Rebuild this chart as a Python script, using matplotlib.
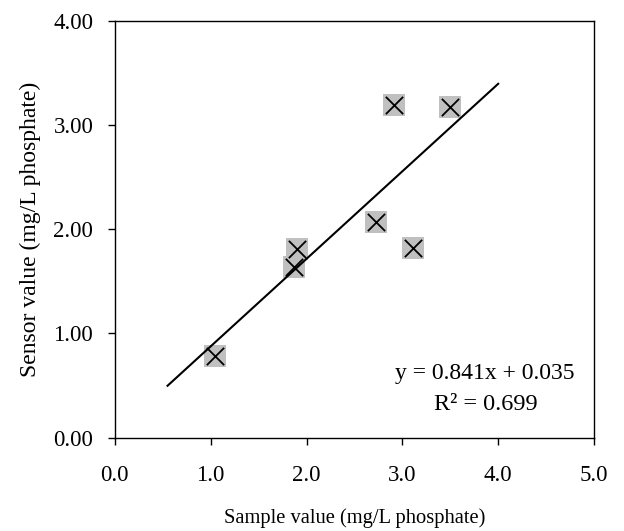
import matplotlib
matplotlib.use("Agg")
import matplotlib.pyplot as plt
import numpy as np

plt.rcParams['font.family'] = ['Liberation Serif', 'DejaVu Serif']

sample = [1.05, 1.87, 1.90, 2.72, 2.91, 3.11, 3.50]
sensor = [0.78, 1.64, 1.81, 2.07, 3.20, 1.82, 3.18]
slope, intercept = 0.841, 0.035
fit_range = [0.55, 4.0]
r2 = 0.699
xticks = [0, 1, 2, 3, 4, 5]
yticks = [0, 1, 2, 3, 4]

fig = plt.figure(figsize=(6.24, 5.31), dpi=100)
ax = fig.add_axes([0.184, 0.176, 0.768, 0.784])

ax.scatter(sample, sensor, marker='s', s=265, color='#c0c0c0', zorder=2, linewidths=0)
ax.scatter(sample, sensor, marker='x', s=155, color='black', linewidths=1.3, zorder=3)
xf = np.array(fit_range)
ax.plot(xf, slope * xf + intercept, color='black', lw=1.5, zorder=4)

ax.set_xlim(0, 5)
ax.set_ylim(0, 4)
ax.set_xticks(xticks)
ax.set_yticks(yticks)
ax.set_xticklabels([f"{v:.1f}" for v in xticks], fontsize=16.5)
ax.set_yticklabels([f"{v:.2f}" for v in yticks], fontsize=16.5)
ax.tick_params(direction='out', length=5, width=1)
ax.tick_params(axis='x', pad=14.5)
ax.tick_params(axis='y', pad=10.5)
for s in ax.spines.values():
    s.set_linewidth(1)

ax.set_xlabel("Sample value (mg/L phosphate)", fontsize=14.8, labelpad=16)
ax.set_ylabel("Sensor value (mg/L phosphate)", fontsize=17, labelpad=9)

ax.text(3.86, 0.62, f"y = {slope:.3f}x + {intercept:.3f}", fontsize=17, ha='center', va='center')
ax.text(3.87, 0.32, f"R² = {r2:.3f}", fontsize=17.5, ha='center', va='center')

fig.savefig("out.png", dpi=100)
